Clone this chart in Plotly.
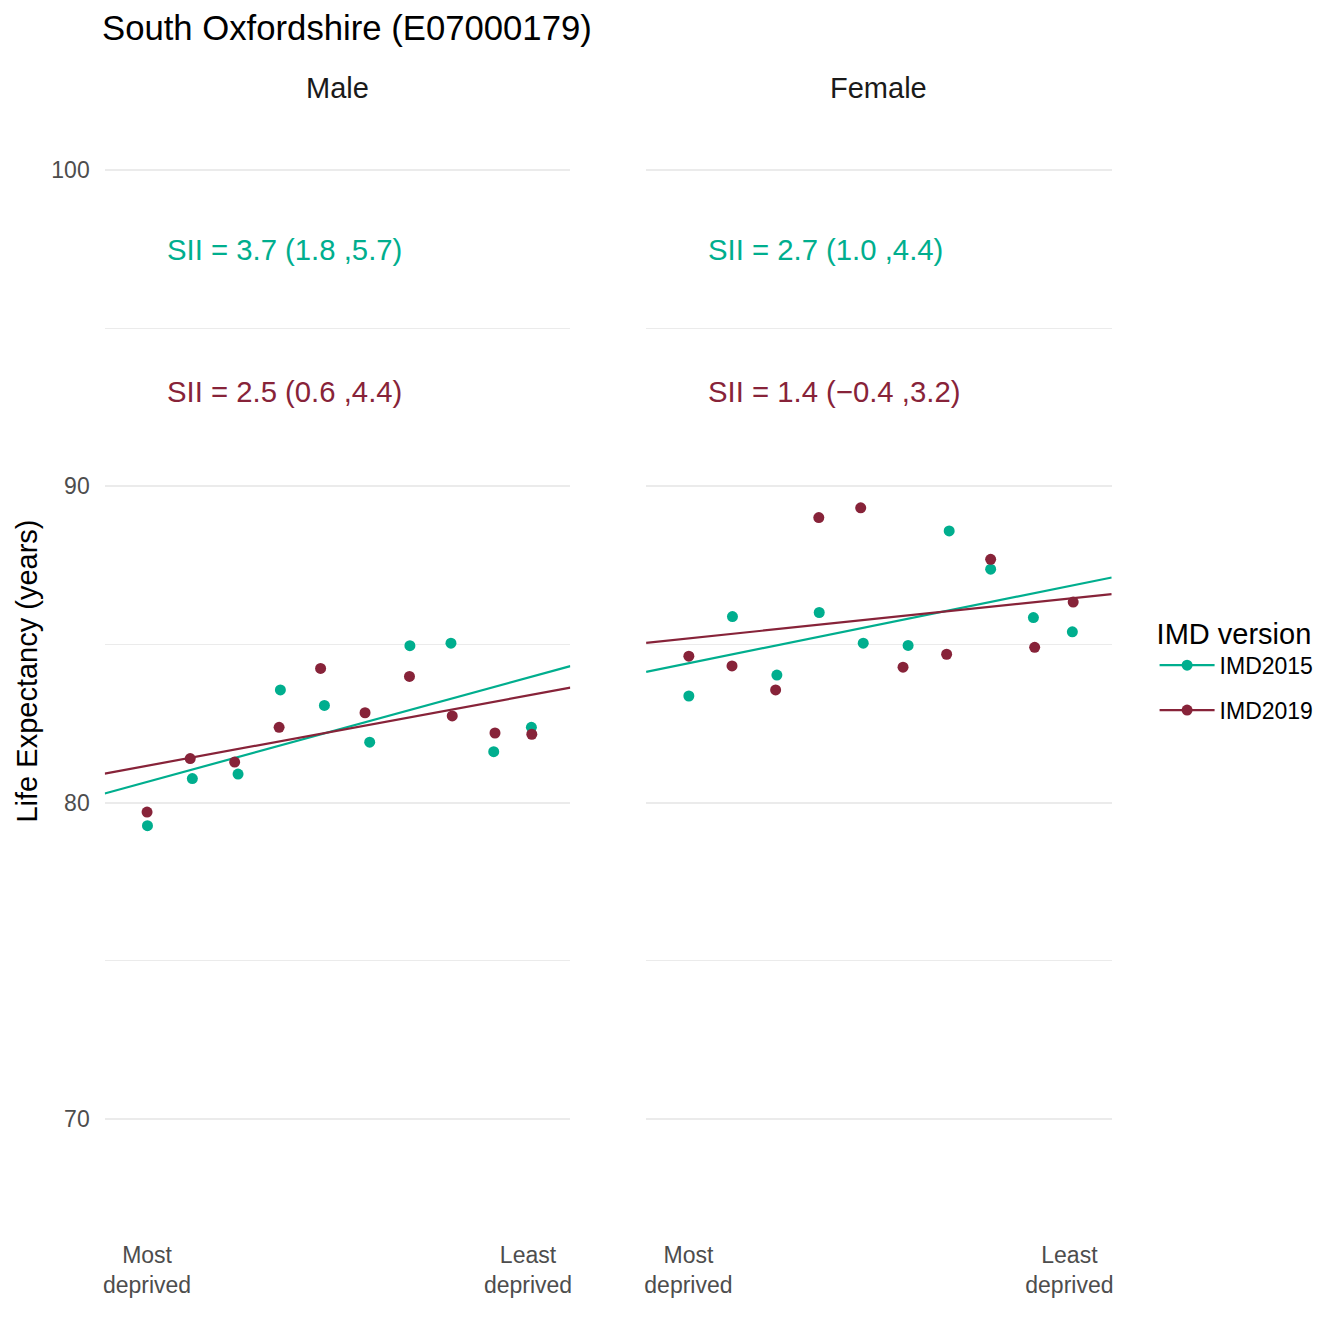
import plotly.graph_objects as go

# ---------------- data ----------------
versions = ["IMD2015", "IMD2019"]
sexes = ["Male", "Female"]

# relative deprivation rank (0 = most deprived, 1 = least deprived)
male_x_2015 = [0.051, 0.157, 0.265, 0.365, 0.469, 0.576, 0.671, 0.768, 0.869, 0.958]
male_y_2015 = [79.27, 80.76, 80.90, 83.56, 83.07, 81.91, 84.96, 85.04, 81.61, 82.38]
male_x_2019 = [0.050, 0.152, 0.257, 0.362, 0.460, 0.565, 0.670, 0.771, 0.872, 0.959]
male_y_2019 = [79.70, 81.39, 81.28, 82.38, 84.24, 82.84, 83.99, 82.74, 82.20, 82.16]

female_x_2015 = [0.051, 0.154, 0.259, 0.359, 0.463, 0.569, 0.666, 0.764, 0.865, 0.957]
female_y_2015 = [83.37, 85.88, 84.03, 86.01, 85.04, 84.97, 88.59, 87.38, 85.85, 85.40]
female_x_2019 = [0.051, 0.153, 0.256, 0.358, 0.457, 0.557, 0.660, 0.764, 0.868, 0.959]
female_y_2019 = [84.63, 84.32, 83.56, 89.01, 89.32, 84.28, 84.69, 87.69, 84.91, 86.34]

# regression (SII) lines: intercept at rank 0, slope = SII
male_intercept = [80.47, 81.04]
male_slope = [3.66, 2.47]
female_intercept = [84.27, 85.12]
female_slope = [2.71, 1.40]

# SII labels: value, lower CI, upper CI
male_sii = [3.7, 2.5]
male_lo = [1.8, 0.6]
male_hi = [5.7, 4.4]
female_sii = [2.7, 1.4]
female_lo = [1.0, -0.4]
female_hi = [4.4, 3.2]
label_y = [97.5, 93.0]

y_ticks = [70, 80, 90, 100]
x_tick_vals = [0.05, 0.95]
x_tick_text = ["Most<br>deprived", "Least<br>deprived"]

title_text = "South Oxfordshire (E07000179)"
y_title = "Life Expectancy (years)"
legend_title = "IMD version"

# ---------------- style ----------------
colors = {"IMD2015": "#00AE8E", "IMD2019": "#872339"}
FONT = "Liberation Sans, Arial, sans-serif"
W = H = 1344
DX, DY = 9, 8          # page offset of the figure inside the browser window
XR = [-0.05, 1.05]
YR = [66.17, 102.15]

def px_x(p):
    return (p - DX) / W

def px_y(p):
    return 1 - (p - DY) / H

dom_m = [px_x(104), px_x(571)]
dom_f = [px_x(647), px_x(1114)]
dom_y = [px_y(1240), px_y(102)]

fig = go.Figure()

panels = [
    ("x", "y", [male_x_2015, male_x_2019], [male_y_2015, male_y_2019],
     male_intercept, male_slope, male_sii, male_lo, male_hi),
    ("x2", "y2", [female_x_2015, female_x_2019], [female_y_2015, female_y_2019],
     female_intercept, female_slope, female_sii, female_lo, female_hi),
]

def fmt(v):
    return f"{v:.1f}".replace("-", "\u2212")

for xa, ya, xs, ys, ic, sl, sii, lo, hi in panels:
    for i, v in enumerate(versions):
        c = colors[v]
        fig.add_trace(go.Scatter(
            x=[XR[0], XR[1]], y=[ic[i] + sl[i] * XR[0], ic[i] + sl[i] * XR[1]],
            mode="lines", line=dict(color=c, width=2.2), xaxis=xa, yaxis=ya,
            showlegend=False, hoverinfo="skip"))
        fig.add_trace(go.Scatter(
            x=xs[i], y=ys[i], mode="markers",
            marker=dict(color=c, size=11), xaxis=xa, yaxis=ya,
            showlegend=False, name=v))
        fig.add_annotation(
            x=0.092, y=label_y[i], xref=xa, yref=ya, xanchor="left", yanchor="middle",
            text=f"SII = {fmt(sii[i])} ({fmt(lo[i])} ,{fmt(hi[i])})",
            showarrow=False, font=dict(family=FONT, size=29.3, color=c))

# legend entries
for v in versions:
    fig.add_trace(go.Scatter(
        x=[None], y=[None], mode="lines+markers", name=v, legendgroup=v,
        line=dict(color=colors[v], width=2.2),
        marker=dict(color=colors[v], size=11), xaxis="x", yaxis="y"))

axis_common_x = dict(range=XR, showgrid=False, zeroline=False, showline=False,
                     tickmode="array", tickvals=x_tick_vals, ticktext=x_tick_text,
                     tickfont=dict(family=FONT, size=23, color="#4D4D4D"),
                     ticks="", ticklabelstandoff=-1, fixedrange=True)
axis_common_y = dict(range=YR, zeroline=False, showline=False,
                     tickmode="array", tickvals=y_ticks,
                     showgrid=True, gridcolor="#EBEBEB", gridwidth=2,
                     minor=dict(tickvals=[75, 85, 95], showgrid=True,
                                gridcolor="#EBEBEB", gridwidth=1.2),
                     tickfont=dict(family=FONT, size=23, color="#4D4D4D"),
                     ticks="", ticklabelstandoff=14, fixedrange=True)

fig.update_layout(
    width=W, height=H,
    margin=dict(l=0, r=0, t=0, b=0),
    paper_bgcolor="white", plot_bgcolor="white",
    font=dict(family=FONT, color="#000000"),
    xaxis=dict(domain=dom_m, anchor="y", **axis_common_x),
    xaxis2=dict(domain=dom_f, anchor="y2", **axis_common_x),
    yaxis=dict(domain=dom_y, anchor="x",
               title=dict(text=y_title, font=dict(family=FONT, size=29, color="#000000"),
                          standoff=5),
               **axis_common_y),
    yaxis2=dict(domain=dom_y, anchor="x2", showticklabels=False, **axis_common_y),
    showlegend=True,
    legend=dict(
        x=px_x(1157), y=px_y(606), xanchor="left", yanchor="top",
        title=dict(text=legend_title, font=dict(family=FONT, size=29, color="#000000")),
        font=dict(family=FONT, size=23, color="#000000"),
        bgcolor="rgba(0,0,0,0)", tracegroupgap=12, itemwidth=55,
    ),
)

fig.add_annotation(x=px_x(99), y=px_y(28), xref="paper", yref="paper",
                   xanchor="left", yanchor="middle", text=title_text, showarrow=False,
                   font=dict(family=FONT, size=34.7, color="#000000"))
for name, dom in zip(sexes, [dom_m, dom_f]):
    fig.add_annotation(x=(dom[0] + dom[1]) / 2, y=px_y(88), xref="paper", yref="paper",
                       xanchor="center", yanchor="middle", text=name, showarrow=False,
                       font=dict(family=FONT, size=29, color="#1A1A1A"))

fig.write_html("out.html")
